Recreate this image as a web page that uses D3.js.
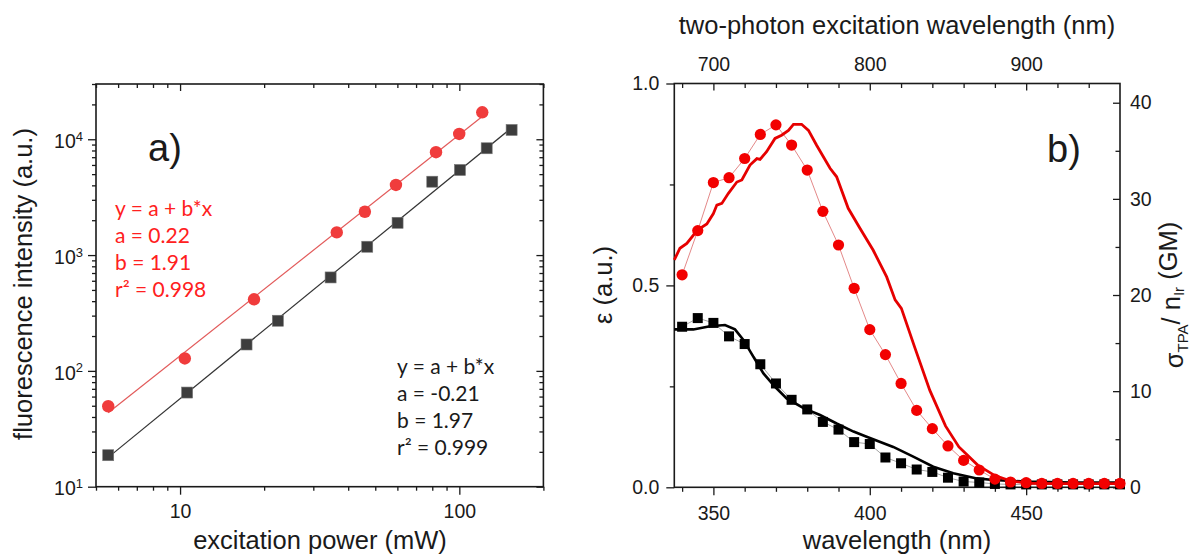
<html>
<head>
<style>
body{margin:0;background:#fff;}
svg{display:block;}
text{font-family:"Liberation Sans",Arial,sans-serif;fill:#1a1a1a;}
.axis path,.axis line{stroke:#1a1a1a;}
.axis path{stroke-width:1.6;}
.axis line{stroke-width:1.3;}
.fit{font-family:Lato,"Open Sans",sans-serif;}
</style>
<script src="https://d3js.org/d3.v7.min.js"></script>
</head>
<body>
<svg id="chart" width="1190" height="556"></svg>
<script>
// a) power dependence
const powerRed = [5.53, 10.4, 18.4, 36.4, 45.9, 59.3, 82.5, 99.9, 120.8];
const intensityRed = [49.5, 128, 415, 1570, 2366, 4030, 7730, 11110, 17100];
const powerBlack = [5.53, 10.6, 17.3, 22.4, 34.6, 46.8, 60.1, 80.0, 100.5, 125.3, 153.9];
const intensityBlack = [18.7, 65, 169, 271, 641, 1180, 1900, 4300, 5430, 8360, 12030];
const fitA = [0.22, -0.21];
const fitB = [1.91, 1.97];
const fitR2 = ["0.998", "0.999"];
const powerTicks = [10, 100];
const intensityTicks = [10, 100, 1000, 10000];

// b) spectra
const tpaWavelength = [680, 690, 700, 710, 720, 730, 740, 750, 760, 770, 780, 790, 800, 810, 820, 830, 840, 850, 860, 870, 880, 890, 900, 910, 920, 930, 940, 950, 960];
const tpaRed = [22.1, 26.7, 31.7, 32.2, 34.2, 36.7, 37.7, 35.6, 33.0, 28.7, 25.2, 20.7, 16.4, 13.8, 10.8, 8.0, 6.1, 4.3, 2.8, 1.8, 0.85, 0.55, 0.48, 0.4, 0.4, 0.4, 0.4, 0.4, 0.4];
const tpaBlack = [16.7, 17.6, 17.1, 15.7, 14.9, 12.8, 10.8, 9.1, 8.1, 6.8, 6.0, 4.7, 4.5, 3.1, 2.5, 1.85, 1.6, 1.0, 0.6, 0.5, 0.35, 0.3, 0.3, 0.3, 0.3, 0.3, 0.3, 0.3, 0.3];
const absWavelengthRed = [337.5, 339.3, 341.5, 344.9, 347.9, 350, 351.1, 352.7, 354.8, 357.5, 359.1, 361.7, 363.9, 364.9, 367.0, 369.7, 371.8, 374, 375.6, 378.2, 380.4, 383.0, 387.3, 389.4, 393.1, 396.9, 401.1, 405.4, 408.1, 410.1, 414.4, 419.2, 424.2, 428.5, 434.5, 440, 444.9, 451, 460, 470, 480];
const epsRed = [0.563, 0.592, 0.604, 0.637, 0.652, 0.678, 0.699, 0.703, 0.728, 0.756, 0.761, 0.798, 0.814, 0.812, 0.831, 0.864, 0.872, 0.884, 0.899, 0.899, 0.884, 0.847, 0.790, 0.769, 0.691, 0.641, 0.587, 0.521, 0.464, 0.443, 0.346, 0.240, 0.152, 0.100, 0.055, 0.029, 0.016, 0.010, 0.009, 0.009, 0.009];
const absWavelengthBlack = [337.5, 343.6, 348.9, 353.7, 356.9, 359.6, 362.8, 366.0, 369.7, 373.4, 378.8, 384.1, 389.4, 394.8, 399.0, 407.5, 413.9, 420.3, 426.7, 434.2, 439.5, 450, 465, 480];
const epsBlack = [0.391, 0.391, 0.399, 0.402, 0.391, 0.365, 0.323, 0.282, 0.249, 0.220, 0.196, 0.179, 0.158, 0.138, 0.125, 0.100, 0.076, 0.051, 0.035, 0.022, 0.018, 0.014, 0.012, 0.012];
const wavelengthTicks = [350, 400, 450];
const tpaTicks = [700, 800, 900];
const epsTicks = [0, 0.5, 1];
const gmTicks = [0, 10, 20, 30, 40];

const svg = d3.select("#chart");

// ---------- panel a ----------
const xA = d3.scaleLog().domain([5, 200]).range([96, 543.4]);
const yA = d3.scaleLog().domain([10, 30000]).range([486.7, 84]);
const minorA = xA.ticks().filter(d => powerTicks.indexOf(d) < 0);
const minorAy = yA.ticks().filter(d => intensityTicks.indexOf(d) < 0);

function drawAxis(axis, tr, labels) {
  const g = svg.append("g").attr("class", "axis").attr("transform", tr).call(axis);
  g.select(".domain").remove();
  if (!labels) g.selectAll("text").remove();
  return g;
}
function frame(x0, x1, y0, y1) {
  svg.append("rect").attr("x", x0).attr("y", y0).attr("width", x1 - x0).attr("height", y1 - y0)
    .attr("fill", "none").attr("stroke", "#1a1a1a").attr("stroke-width", 1.6);
}

// bottom / left outward, top / right inward
drawAxis(d3.axisBottom(xA).tickValues(powerTicks).tickSize(8).tickPadding(9).tickFormat(d3.format("d")), "translate(0,486.7)", true)
  .selectAll("text").style("font-size", "19.5px");
drawAxis(d3.axisBottom(xA).tickValues(minorA).tickSize(4), "translate(0,486.7)");
drawAxis(d3.axisTop(xA).tickValues(powerTicks).tickSize(-7), "translate(0,84)");
drawAxis(d3.axisTop(xA).tickValues(minorA).tickSize(-4), "translate(0,84)");
const yAx = drawAxis(d3.axisLeft(yA).tickValues(intensityTicks).tickSize(8).tickPadding(5), "translate(96,0)", true);
yAx.selectAll("text").style("font-size", "19.5px").attr("dy", "0.42em").each(function(d) {
  const t = d3.select(this).text("10");
  t.append("tspan").attr("dy", "-0.55em").style("font-size", "13px").text(Math.round(Math.log10(d)));
});
drawAxis(d3.axisLeft(yA).tickValues(minorAy).tickSize(4), "translate(96,0)");
drawAxis(d3.axisRight(yA).tickValues(intensityTicks).tickSize(-7), "translate(543.4,0)");
drawAxis(d3.axisRight(yA).tickValues(minorAy).tickSize(-4), "translate(543.4,0)");
frame(96, 543.4, 84, 486.7);

// fit lines from the fitted parameters
const fitColors = ["#e25a5a", "#333"];
[powerRed, powerBlack].forEach((p, i) => {
  const x0 = d3.min(p), x1 = d3.max(p);
  const pts = [x0, x1].map(x => [x, Math.pow(10, fitA[i] + fitB[i] * Math.log10(x))]);
  svg.append("path").datum(pts)
    .attr("d", d3.line().x(d => xA(d[0])).y(d => yA(d[1])))
    .attr("fill", "none").attr("stroke", fitColors[i]).attr("stroke-width", 1.2);
});

svg.append("g").selectAll("rect").data(powerBlack).enter().append("rect")
  .attr("x", d => xA(d) - 5.5).attr("y", (d, i) => yA(intensityBlack[i]) - 5.5)
  .attr("width", 11).attr("height", 11).attr("fill", "#3d3d3d").attr("stroke", "#777").attr("stroke-width", 0.6);
svg.append("g").selectAll("circle").data(powerRed).enter().append("circle")
  .attr("cx", d => xA(d)).attr("cy", (d, i) => yA(intensityRed[i])).attr("r", 6.2)
  .attr("fill", "#f03c3c");

svg.append("text").attr("x", 148).attr("y", 161).style("font-size", "38px").text("a)");

const fitText = [
  {x: 115, y: 216, color: "#ff2020"},
  {x: 397, y: 374, color: "#1a1a1a"}
];
fitText.forEach((f, i) => {
  const lines = ["y = a + b*x", "a = " + fitA[i], "b = " + fitB[i], "r\u00b2 = " + fitR2[i]];
  svg.append("g").selectAll("text").data(lines).enter().append("text")
    .attr("class", "fit").attr("x", f.x).attr("y", (d, j) => f.y + j * 27)
    .style("font-size", "21px").style("fill", f.color).text(d => d);
});

svg.append("text").attr("x", 320).attr("y", 549).attr("text-anchor", "middle")
  .style("font-size", "25.5px").text("excitation power (mW)");
svg.append("text").attr("transform", "translate(32,284) rotate(-90)").attr("text-anchor", "middle")
  .style("font-size", "25.5px").text("fluorescence intensity (a.u.)");

// ---------- panel b ----------
const xB = d3.scaleLinear().domain([337.5, 480]).range([674.3, 1120]);
const xTop = d3.scaleLinear().domain([675, 960]).range([674.3, 1120]);
const yEps = d3.scaleLinear().domain([0, 1]).range([487.3, 83.5]);
const yGM = d3.scaleLinear().domain([0, 42]).range([487.3, 83.5]);
const minorB = d3.range(340, 480, 10).filter(d => wavelengthTicks.indexOf(d) < 0);
const minorTop = d3.range(680, 960, 20).filter(d => tpaTicks.indexOf(d) < 0);

drawAxis(d3.axisBottom(xB).tickValues(wavelengthTicks).tickSize(8).tickPadding(11), "translate(0,487.3)", true)
  .selectAll("text").style("font-size", "19.5px");
drawAxis(d3.axisBottom(xB).tickValues(minorB).tickSize(4.5), "translate(0,487.3)");
drawAxis(d3.axisTop(xTop).tickValues(tpaTicks).tickSize(-7).tickPadding(13), "translate(0,83.5)", true)
  .selectAll("text").style("font-size", "19.5px");
drawAxis(d3.axisTop(xTop).tickValues(minorTop).tickSize(-4.5), "translate(0,83.5)");
drawAxis(d3.axisLeft(yEps).tickValues(epsTicks).tickSize(8).tickPadding(7).tickFormat(d3.format(".1f")), "translate(674.3,0)", true)
  .selectAll("text").style("font-size", "19.5px");
drawAxis(d3.axisLeft(yEps).tickValues([0.25, 0.75]).tickSize(4.5), "translate(674.3,0)");
drawAxis(d3.axisRight(yGM).tickValues(gmTicks).tickSize(-7).tickPadding(10), "translate(1120,0)", true)
  .selectAll("text").style("font-size", "19.5px");
drawAxis(d3.axisRight(yGM).tickValues([5, 15, 25, 35]).tickSize(-4.5), "translate(1120,0)");
frame(674.3, 1120, 83.5, 487.3);

const plotB = svg.append("g");
// thin guide lines through the TPA points
plotB.append("path").datum(tpaBlack)
  .attr("d", d3.line().x((d, i) => xTop(tpaWavelength[i])).y(d => yGM(d)))
  .attr("fill", "none").attr("stroke", "#9a9a9a").attr("stroke-width", 0.9);
plotB.append("path").datum(tpaRed)
  .attr("d", d3.line().x((d, i) => xTop(tpaWavelength[i])).y(d => yGM(d)))
  .attr("fill", "none").attr("stroke", "#e07a7a").attr("stroke-width", 0.9);

// one-photon absorption
plotB.append("path").datum(epsBlack)
  .attr("d", d3.line().x((d, i) => xB(absWavelengthBlack[i])).y(d => yEps(d)))
  .attr("fill", "none").attr("stroke", "#000").attr("stroke-width", 2.6);
plotB.append("path").datum(epsRed)
  .attr("d", d3.line().x((d, i) => xB(absWavelengthRed[i])).y(d => yEps(d)))
  .attr("fill", "none").attr("stroke", "#e60000").attr("stroke-width", 2.8);

plotB.append("g").selectAll("rect").data(tpaBlack).enter().append("rect")
  .attr("x", (d, i) => xTop(tpaWavelength[i]) - 5).attr("y", d => yGM(d) - 5)
  .attr("width", 10).attr("height", 10).attr("fill", "#000");
plotB.append("g").selectAll("circle").data(tpaRed).enter().append("circle")
  .attr("cx", (d, i) => xTop(tpaWavelength[i])).attr("cy", d => yGM(d)).attr("r", 5.6)
  .attr("fill", "#f20000");

svg.append("text").attr("x", 1047).attr("y", 162).style("font-size", "38px").text("b)");

svg.append("text").attr("x", 897).attr("y", 549).attr("text-anchor", "middle")
  .style("font-size", "25.5px").text("wavelength (nm)");
svg.append("text").attr("x", 897).attr("y", 34).attr("text-anchor", "middle")
  .style("font-size", "25.5px").text("two-photon excitation wavelength (nm)");
svg.append("text").attr("transform", "translate(612,285) rotate(-90)").attr("text-anchor", "middle")
  .style("font-size", "25.5px").text("\u03b5 (a.u.)");
const gmLabel = svg.append("text").attr("transform", "translate(1183,295) rotate(-90)").attr("text-anchor", "middle")
  .style("font-size", "25.5px");
gmLabel.append("tspan").text("\u03c3");
gmLabel.append("tspan").attr("dy", "0.3em").style("font-size", "15px").text("TPA");
gmLabel.append("tspan").attr("dy", "-0.3em").text("/ n");
gmLabel.append("tspan").attr("dy", "0.3em").style("font-size", "15px").text("Ir");
gmLabel.append("tspan").attr("dy", "-0.3em").text(" (GM)");
</script>
</body>
</html>
